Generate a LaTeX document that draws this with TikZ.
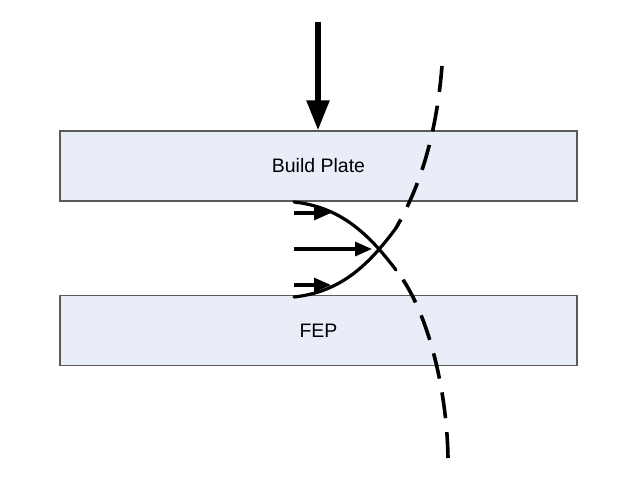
\documentclass[tikz,border=0pt]{standalone}
\usepackage{fontspec}
\setmainfont{Liberation Sans}
\usetikzlibrary{arrows.meta}
\definecolor{platefill}{HTML}{E8EDF7}
\definecolor{plateline}{HTML}{5A5A5A}
\tikzset{
  plate/.style={draw=plateline, line width=1.4pt, fill=platefill, minimum width=517pt, minimum height=70pt, inner sep=0pt, font=\fontsize{19.5}{22}\selectfont},
  bigarrow/.style={line width=5.5pt, -{Triangle[length=30pt,width=22pt]}},
  flowarrow/.style={line width=3.2pt, -{Triangle[length=17pt,width=14pt]}},
  meniscus/.style={line width=3.2pt, line cap=round},
  wavefront/.style={line width=3.6pt, dash pattern=on 26pt off 14pt}
}
\begin{document}
\begin{tikzpicture}[x=1pt,y=-1pt]
\useasboundingbox (0,0) rectangle (640,480);
\node[plate] (bp) at (318.5,166) {Build Plate};
\node[plate] (fep) at (318.5,330.5) {FEP};
% pressing arrow
\coordinate (ptop) at (318,22);
\draw[bigarrow] (ptop) -- (ptop |- bp.north);
% meniscus curves
\coordinate (ua) at (294,202);
\coordinate (ub) at (396,270);
\coordinate (la) at (294,297);
\coordinate (lb) at (396,228);
\draw[meniscus] (ua) .. controls (340,207) and (368,233) .. (ub);
\draw[meniscus] (la) .. controls (340,292) and (368,266) .. (lb);
% flow arrows
\coordinate (f1a) at (294,213); \coordinate (f1b) at (331,213);
\coordinate (f2a) at (294,249); \coordinate (f2b) at (372,249);
\coordinate (f3a) at (294,285); \coordinate (f3b) at (331,285);
\draw[flowarrow] (f1a) -- (f1b);
\draw[flowarrow] (f2a) -- (f2b);
\draw[flowarrow] (f3a) -- (f3b);
% dashed wave
\coordinate (wt) at (442,66);
\coordinate (wb) at (448,458);
\draw[wavefront] (wt) .. controls (436,140) and (418,190) .. (lb);
\draw[wavefront, dash phase=28pt] (ub) .. controls (428,310) and (447,390) .. (wb);
\end{tikzpicture}
\end{document}
